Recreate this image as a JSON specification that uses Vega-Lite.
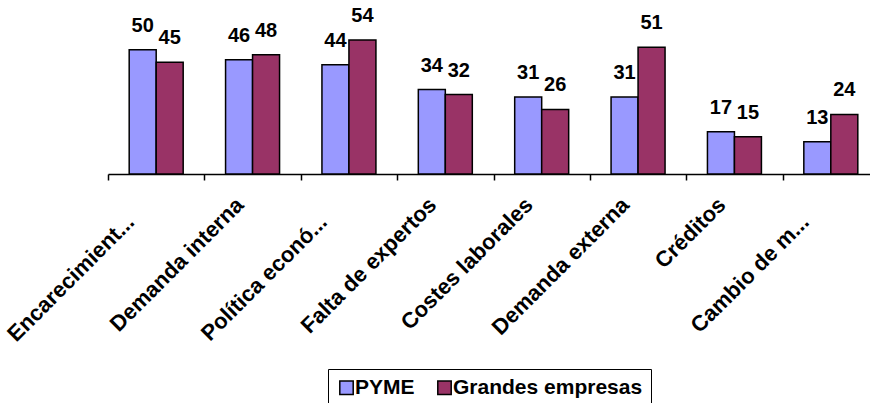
{
  "$schema": "https://vega.github.io/schema/vega-lite/v6.json",
  "width": 771,
  "height": 149,
  "autosize": "none",
  "padding": {"left": 108, "top": 25, "right": 0, "bottom": 229},
  "background": "white",
  "config": {"view": {"stroke": null}, "font": "Liberation Sans"},
  "data": {
    "values": [
      {"categoria": "Encarecimient...", "serie": "PYME", "valor": 50},
      {"categoria": "Encarecimient...", "serie": "Grandes empresas", "valor": 45},
      {"categoria": "Demanda interna", "serie": "PYME", "valor": 46},
      {"categoria": "Demanda interna", "serie": "Grandes empresas", "valor": 48},
      {"categoria": "Política econó...", "serie": "PYME", "valor": 44},
      {"categoria": "Política econó...", "serie": "Grandes empresas", "valor": 54},
      {"categoria": "Falta de expertos", "serie": "PYME", "valor": 34},
      {"categoria": "Falta de expertos", "serie": "Grandes empresas", "valor": 32},
      {"categoria": "Costes laborales", "serie": "PYME", "valor": 31},
      {"categoria": "Costes laborales", "serie": "Grandes empresas", "valor": 26},
      {"categoria": "Demanda externa", "serie": "PYME", "valor": 31},
      {"categoria": "Demanda externa", "serie": "Grandes empresas", "valor": 51},
      {"categoria": "Créditos", "serie": "PYME", "valor": 17},
      {"categoria": "Créditos", "serie": "Grandes empresas", "valor": 15},
      {"categoria": "Cambio de m...", "serie": "PYME", "valor": 13},
      {"categoria": "Cambio de m...", "serie": "Grandes empresas", "valor": 24}
    ]
  },
  "encoding": {
    "x": {
      "field": "categoria",
      "type": "nominal",
      "sort": null,
      "scale": {"paddingInner": 0, "paddingOuter": 0},
      "axis": {
        "title": null,
        "domainColor": "black",
        "domainWidth": 1.5,
        "tickBand": "extent",
        "tickColor": "black",
        "tickWidth": 1.5,
        "tickSize": 6,
        "labelAngle": -45,
        "labelAlign": "right",
        "labelBaseline": "middle",
        "labelFontSize": 22,
        "labelFontWeight": "bold",
        "labelColor": "black",
        "labelPadding": {"condition": {"test": "indexof(datum.label, '...') >= 0", "value": 38}, "value": 21},
        "labelOffset": {"condition": {"test": "indexof(datum.label, '...') >= 0", "value": -26}, "value": -13},
        "labelLimit": 0
      }
    },
    "xOffset": {
      "field": "serie",
      "type": "nominal",
      "sort": ["PYME", "Grandes empresas"],
      "scale": {"paddingInner": 0, "paddingOuter": 0.785}
    },
    "y": {
      "field": "valor",
      "type": "quantitative",
      "scale": {"domain": [0, 60]},
      "axis": null
    }
  },
  "layer": [
    {
      "mark": {"type": "bar", "stroke": "black", "strokeWidth": 1.5},
      "encoding": {
        "color": {
          "field": "serie",
          "type": "nominal",
          "sort": ["PYME", "Grandes empresas"],
          "scale": {"domain": ["PYME", "Grandes empresas"], "range": ["#9999FF", "#993366"]},
          "legend": {
            "title": null,
            "orient": "none",
            "legendX": 220,
            "legendY": 344,
            "direction": "horizontal",
            "labelFontSize": 21,
            "labelFontWeight": "bold",
            "labelColor": "black",
            "labelOffset": -2,
            "labelLimit": 0,
            "symbolType": "square",
            "symbolSize": 180,
            "symbolStrokeColor": "black",
            "symbolStrokeWidth": 1.5,
            "symbolOpacity": 1,
            "strokeColor": "black",
            "fillColor": "white",
            "padding": 8,
            "columnPadding": 19
          }
        }
      }
    },
    {
      "mark": {"type": "text", "baseline": "alphabetic", "dy": -18, "fontSize": 20, "fontWeight": "bold", "color": "black"},
      "encoding": {"text": {"field": "valor", "type": "quantitative"}}
    }
  ]
}
